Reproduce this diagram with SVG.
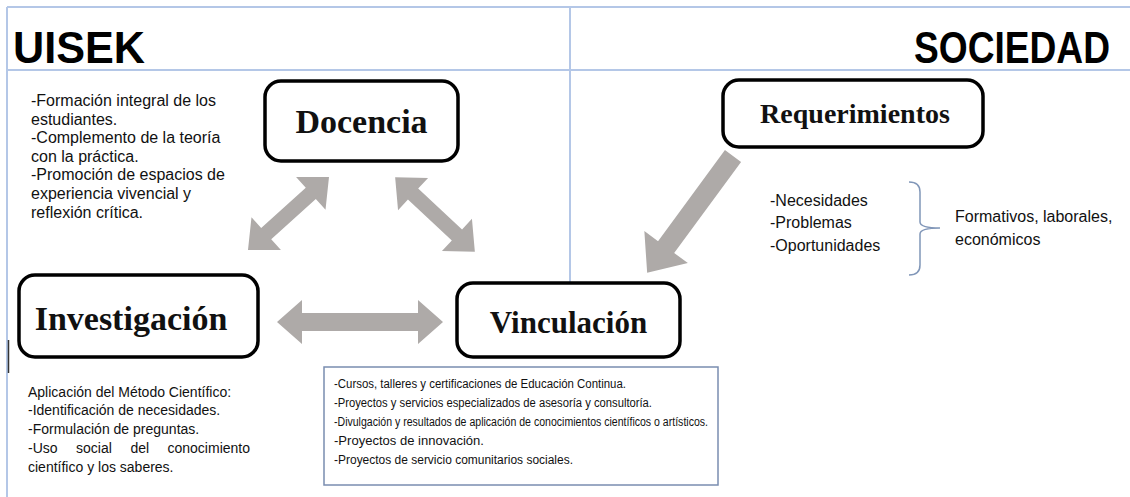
<svg xmlns="http://www.w3.org/2000/svg" width="1130" height="497" viewBox="0 0 1130 497">
<style>
.grid{stroke:#b4c7e7;stroke-width:2;fill:none}
.node{fill:#fff;stroke:#000;stroke-width:3.5}
.nt{font-family:"Liberation Serif",serif;font-weight:bold;fill:#111;text-anchor:middle}
.hd{font-family:"Liberation Sans",Arial,sans-serif;font-weight:bold;fill:#000}
.tx{font-family:"Liberation Sans",Arial,sans-serif;font-size:14px;fill:#111}
.tl{font-family:"Liberation Sans",Arial,sans-serif;font-size:16px;fill:#111}
.sm{font-family:"Liberation Sans",Arial,sans-serif;font-size:12.5px;fill:#111}
.arr{fill:#aeaaa8}
</style>
<rect width="1130" height="497" fill="#fff"/>
<g id="grid">
<line class="grid" x1="7" y1="7" x2="1130" y2="7"/>
<line class="grid" x1="7" y1="70" x2="1130" y2="70"/>
<line class="grid" x1="7" y1="7" x2="7" y2="497"/>
<line class="grid" x1="570" y1="7" x2="570" y2="283"/>
<line x1="8.5" y1="340" x2="8.5" y2="373" stroke="#333" stroke-width="1.5"/>
</g>
<g id="headers">
<text class="hd" transform="translate(13,63) scale(1,1.05)" font-size="42" textLength="132" lengthAdjust="spacingAndGlyphs">UISEK</text>
<text class="hd" transform="translate(914,63) scale(1,1.1)" font-size="40" textLength="196" lengthAdjust="spacingAndGlyphs">SOCIEDAD</text>
</g>
<g id="connectors">
<polygon class="arr" transform="translate(288.5,213.5) rotate(-42)" points="-54.5,0 -30,-22 -30,-7.5 30,-7.5 30,-22 54.5,0 30,22 30,7.5 -30,7.5 -30,22"/>
<polygon class="arr" transform="translate(435,214.5) rotate(43)" points="-54.5,0 -30,-22 -30,-7.5 30,-7.5 30,-22 54.5,0 30,22 30,7.5 -30,7.5 -30,22"/>
<polygon class="arr" transform="translate(360,322)" points="-83,0 -58,-22 -58,-9 58,-9 58,-22 83,0 58,22 58,9 -58,9 -58,22"/>
<polygon class="arr" transform="translate(733,156) rotate(126.3)" points="0,-10 113,-10 113,-27 145,0 113,27 113,10 0,10"/>
</g>
<g id="docencia">
<rect class="node" x="265" y="81" width="193" height="80" rx="16"/>
<text class="nt" x="361.5" y="133" font-size="34">Docencia</text>
</g>
<g id="requerimientos">
<rect class="node" x="723" y="80" width="260" height="67" rx="16"/>
<text class="nt" x="855" y="123" font-size="28">Requerimientos</text>
</g>
<g id="investigacion">
<rect class="node" x="19" y="275" width="239" height="82" rx="16"/>
<text class="nt" x="131" y="330" font-size="34">Investigación</text>
</g>
<g id="vinculacion">
<rect class="node" x="457" y="283" width="223" height="74" rx="16"/>
<text class="nt" x="568.5" y="333" font-size="31">Vinculación</text>
</g>
<g id="docencia-text">
<text class="tl"><tspan x="31" y="106">-Formación integral de los</tspan><tspan x="31" y="125">estudiantes.</tspan><tspan x="31" y="143">-Complemento de la teoría</tspan><tspan x="31" y="162">con la práctica.</tspan><tspan x="31" y="180">-Promoción de espacios de</tspan><tspan x="31" y="199">experiencia vivencial y</tspan><tspan x="31" y="218">reflexión crítica.</tspan></text>
</g>
<g id="investigacion-text">
<text class="tx"><tspan x="28" y="397">Aplicación del Método Científico:</tspan><tspan x="28" y="415">-Identificación de necesidades.</tspan><tspan x="28" y="434">-Formulación de preguntas.</tspan><tspan x="28" y="453">-Uso</tspan><tspan x="76" y="453">social</tspan><tspan x="130.5" y="453">del</tspan><tspan x="167.5" y="453">conocimiento</tspan><tspan x="28" y="472">científico y los saberes.</tspan></text>
</g>
<g id="requerimientos-text">
<text class="tl"><tspan x="770" y="206">-Necesidades</tspan><tspan x="770" y="228">-Problemas</tspan><tspan x="770" y="251">-Oportunidades</tspan></text>
<path d="M909,182 Q920,182 920,192 L920,222 Q920,228 940,228 Q920,228 920,234 L920,265 Q920,275 909,275" fill="none" stroke="#8096b8" stroke-width="1.5"/>
<text class="tl" font-size="16.5"><tspan x="955" y="222">Formativos, laborales,</tspan><tspan x="955" y="245">económicos</tspan></text>
</g>
<g id="vinculacion-text">
<rect x="324" y="367" width="394" height="118" fill="#fff" stroke="#7a8db0" stroke-width="1.5"/>
<text class="sm"><tspan x="334" y="388" textLength="292" lengthAdjust="spacingAndGlyphs">-Cursos, talleres y certificaciones de Educación Continua.</tspan><tspan x="334" y="407" textLength="318" lengthAdjust="spacingAndGlyphs">-Proyectos y servicios especializados de asesoría y consultoría.</tspan><tspan x="334" y="426" textLength="374" lengthAdjust="spacingAndGlyphs">-Divulgación y resultados de aplicación de conocimientos científicos o artísticos.</tspan><tspan x="334" y="445" textLength="150" lengthAdjust="spacingAndGlyphs">-Proyectos de innovación.</tspan><tspan x="334" y="464" textLength="239" lengthAdjust="spacingAndGlyphs">-Proyectos de servicio comunitarios sociales.</tspan></text>
</g>
</svg>
